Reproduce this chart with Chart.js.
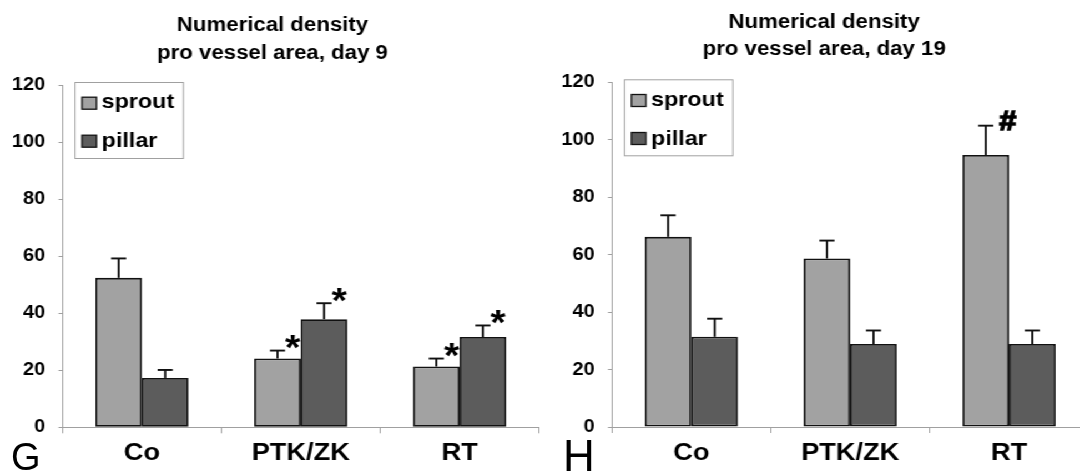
<!DOCTYPE html>
<html><head><meta charset="utf-8">
<script src="https://cdn.jsdelivr.net/npm/chart.js@4.4.1/dist/chart.umd.min.js"></script>
<style>
html,body{margin:0;padding:0;background:#fff;overflow:hidden;width:1080px;height:473px;}
#wrap{position:absolute;left:0;top:0;width:1000px;height:473px;transform:scaleX(1.11);transform-origin:0 0;}
#cL{position:absolute;left:0;top:0;}
#cR{position:absolute;left:495px;top:0;}
.panel{position:absolute;font-family:"Liberation Sans",Arial,sans-serif;line-height:1;color:#000;white-space:nowrap;}
#pG{left:11px;top:437.5px;font-size:38px;}
#pH{left:563px;top:433.5px;font-size:44px;}
</style></head><body>
<div id="wrap"><canvas id="cL" width="487" height="473"></canvas><canvas id="cR" width="487" height="473"></canvas></div>
<div class="panel" id="pG">G</div><div class="panel" id="pH">H</div>
<script>
// ---------- data ----------
const categories = ['Co', 'PTK/ZK', 'RT'];
const seriesNames = ['sprout', 'pillar'];
const yTicks = [0, 20, 40, 60, 80, 100, 120];
const titleDay9 = ['Numerical density', 'pro vessel area, day 9'];
const titleDay19 = ['Numerical density', 'pro vessel area, day 19'];

const day9Sprout = [52.4, 24.1, 21.3];
const day9SproutErr = [6.8, 2.8, 2.8];
const day9SproutMarks = ['', '*', '*'];
const day9Pillar = [17.3, 37.9, 31.7];
const day9PillarErr = [2.8, 5.6, 4.0];
const day9PillarMarks = ['', '*', '*'];

const day19Sprout = [66.2, 58.7, 94.7];
const day19SproutErr = [7.5, 6.2, 10.2];
const day19SproutMarks = ['', '', '#'];
const day19Pillar = [31.4, 28.9, 28.9];
const day19PillarErr = [6.3, 4.7, 4.7];
const day19PillarMarks = ['', '', ''];

// ---------- styles ----------
const FONT = '"Liberation Sans", Arial, sans-serif';
const SPROUT_COLOR = '#a2a2a2';
const PILLAR_COLOR = '#5c5c5c';
const AXIS_COLOR = '#a0a0a0';
Chart.defaults.font.family = FONT;
Chart.defaults.color = '#000';

const errorBarPlugin = {
  id: 'errorBars',
  afterDatasetsDraw(chart, args, opts) {
    const ctx = chart.ctx, ys = chart.scales.y;
    chart.data.datasets.forEach((ds, di) => {
      const meta = chart.getDatasetMeta(di);
      meta.data.forEach((el, i) => {
        const v = ds.data[i], e = ds.errors[i];
        const yTop = ys.getPixelForValue(v + e), yBar = ys.getPixelForValue(v);
        ctx.save();
        ctx.strokeStyle = opts.color;
        ctx.lineWidth = opts.width;
        ctx.beginPath(); ctx.moveTo(el.x, yBar); ctx.lineTo(el.x, yTop); ctx.stroke();
        ctx.beginPath(); ctx.moveTo(el.x - opts.cap, yTop); ctx.lineTo(el.x + opts.cap, yTop); ctx.stroke();
        const m = ds.marks && ds.marks[i];
        if (m) {
          const st = opts.markStyle[m];
          ctx.font = 'bold 100px ' + FONT;
          const mm = ctx.measureText(m);
          const gh = mm.actualBoundingBoxAscent + mm.actualBoundingBoxDescent;
          const fs = 100 * st.h / gh;
          ctx.font = 'bold ' + fs + 'px ' + FONT;
          ctx.textAlign = 'left'; ctx.textBaseline = 'alphabetic';
          ctx.fillStyle = '#000';
          ctx.strokeStyle = '#000';
          ctx.lineWidth = st.stroke;
          const m2 = ctx.measureText(m);
          const left = el.x + opts.cap + st.dx, bottom = yTop + st.dy;
          const tx = left + m2.actualBoundingBoxLeft, ty = bottom - m2.actualBoundingBoxDescent;
          ctx.fillText(m, tx, ty);
          if (st.stroke) ctx.strokeText(m, tx, ty);
        }
        ctx.restore();
      });
    });
  }
};

const titlePlugin = {
  id: 'panelTitle',
  afterDraw(chart, args, opts) {
    const ctx = chart.ctx;
    ctx.save();
    ctx.font = 'bold ' + opts.size + 'px ' + FONT;
    ctx.fillStyle = '#000';
    ctx.textAlign = 'center'; ctx.textBaseline = 'alphabetic';
    opts.lines.forEach((t, i) => ctx.fillText(t, opts.x, opts.baselines[i]));
    ctx.restore();
  }
};

const boxLegendPlugin = {
  id: 'boxLegend',
  afterDraw(chart, args, opts) {
    const ctx = chart.ctx, ca = chart.chartArea;
    const bx = ca.left + opts.dx, by = ca.top + opts.dy;
    ctx.save();
    ctx.fillStyle = '#fff';
    ctx.fillRect(bx, by, opts.w, opts.h);
    ctx.strokeStyle = AXIS_COLOR; ctx.lineWidth = 1;
    ctx.strokeRect(bx, by, opts.w, opts.h);
    ctx.font = 'bold ' + opts.size + 'px ' + FONT;
    ctx.textAlign = 'left'; ctx.textBaseline = 'alphabetic';
    chart.data.datasets.forEach((ds, i) => {
      const sy = by + opts.swatchTops[i];
      ctx.fillStyle = ds.backgroundColor;
      ctx.fillRect(bx + opts.swatchX, sy, opts.swatchW, opts.swatchH);
      ctx.strokeStyle = '#111'; ctx.lineWidth = 1.3;
      ctx.strokeRect(bx + opts.swatchX, sy, opts.swatchW, opts.swatchH);
      ctx.fillStyle = '#000';
      ctx.fillText(ds.label, bx + opts.textX, by + opts.baselines[i]);
    });
    ctx.restore();
  }
};

function makeChart(id, sprout, sproutErr, sproutMarks, pillar, pillarErr, pillarMarks, title, titleX, titleBaselines, topPad, xAxisH) {
  return new Chart(document.getElementById(id), {
    type: 'bar',
    data: {
      labels: categories,
      datasets: [
        { label: seriesNames[0], data: sprout, errors: sproutErr, marks: sproutMarks,
          backgroundColor: SPROUT_COLOR, borderColor: '#111', borderWidth: 1.8, borderSkipped: false },
        { label: seriesNames[1], data: pillar, errors: pillarErr, marks: pillarMarks,
          backgroundColor: PILLAR_COLOR, borderColor: '#111', borderWidth: 1.8, borderSkipped: false }
      ]
    },
    options: {
      responsive: false,
      animation: false,
      devicePixelRatio: 1,
      layout: { padding: { top: topPad, left: 0, right: 1.4, bottom: 0 } },
      datasets: { bar: { categoryPercentage: 0.586, barPercentage: 1.0 } },
      scales: {
        x: {
          grid: { display: true, drawOnChartArea: false, drawTicks: true, tickLength: 6, color: AXIS_COLOR, offset: true },
          border: { display: true, color: AXIS_COLOR, width: 1 },
          ticks: { font: { size: 24.5, weight: 'bold' }, color: '#000', padding: 5.5, autoSkip: false, maxRotation: 0 },
          afterFit(s) { s.height = xAxisH; }
        },
        y: {
          min: yTicks[0], max: yTicks[yTicks.length - 1],
          afterBuildTicks(s) { s.ticks = yTicks.map(v => ({ value: v })); },
          grid: { display: true, drawOnChartArea: false, drawTicks: true, tickLength: 3.6, color: AXIS_COLOR },
          border: { display: true, color: AXIS_COLOR, width: 1 },
          ticks: { font: { size: 18, weight: 'bold' }, color: '#000', padding: 12, },
          afterFit(s) { s.width = 56.3; }
        }
      },
      plugins: {
        legend: { display: false },
        tooltip: { enabled: false },
        title: { display: false },
        errorBars: { color: '#111', width: 1.9, cap: 6.8,
          markStyle: { '*': { h: 13.5, dx: 0, dy: -1.2, stroke: 0 }, '#': { h: 19, dx: 5.4, dy: 4.3, stroke: 1.6 } } },
        panelTitle: { lines: title, x: titleX, baselines: titleBaselines, size: 20 },
        boxLegend: { dx: 11.3, dy: -2.5, w: 97.6, h: 76, size: 21,
          swatchX: 6.3, swatchW: 13, swatchH: 12, swatchTops: [14.7, 52.7],
          textX: 24, baselines: [25.7, 64.7] }
      }
    },
    plugins: [errorBarPlugin, titlePlugin, boxLegendPlugin]
  });
}

makeChart('cL', day9Sprout, day9SproutErr, day9SproutMarks, day9Pillar, day9PillarErr, day9PillarMarks,
  titleDay9, 245.5, [31, 58.5], 85, 45.7);
makeChart('cR', day19Sprout, day19SproutErr, day19SproutMarks, day19Pillar, day19PillarErr, day19PillarMarks,
  titleDay19, 247.5, [27.5, 55], 82.3, 46);
</script>
</body></html>
